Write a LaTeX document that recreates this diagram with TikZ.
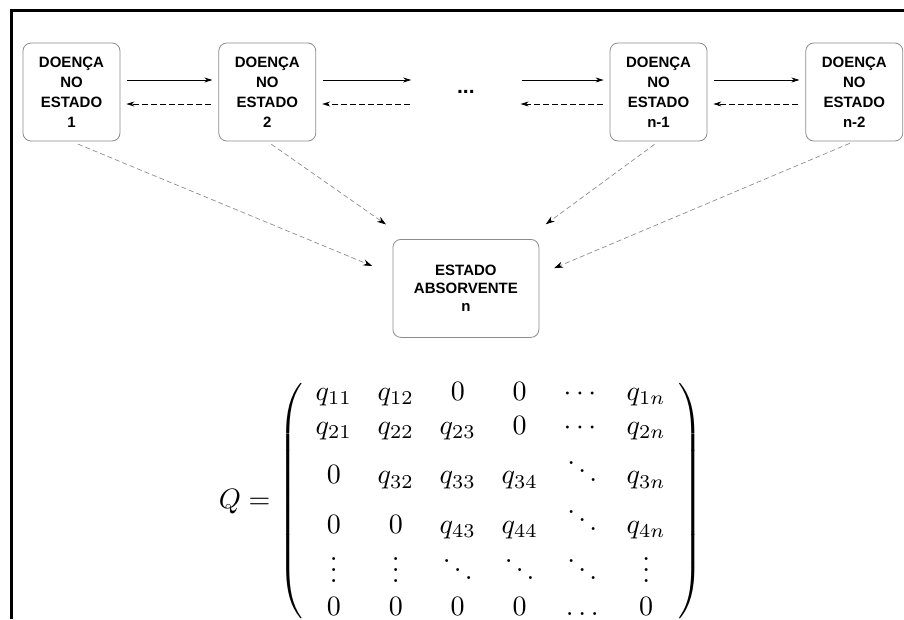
\documentclass[tikz,border=0pt]{standalone}
\usepackage{amsmath}
\usepackage{graphicx}
\usepackage{fontspec}
\setsansfont{Liberation Sans}
\usepackage{tikz}
\usetikzlibrary{arrows.meta,positioning}
\tikzset{
  flowarrow/.style={-{Stealth[length=8pt,width=5pt]}, line width=0.8pt, draw=black,
    shorten <=7pt, shorten >=6pt},
  backarrow/.style={flowarrow, dash pattern=on 6pt off 3pt},
  absarrow/.style={-{Stealth[length=9pt,width=6pt,black]}, line width=0.7pt, draw=black!45,
    dash pattern=on 5pt off 3pt},
  statebox/.style={draw=black!45, rounded corners=8pt, line width=0.8pt, fill=white,
    align=center, inner sep=0pt, minimum width=97pt, minimum height=98pt,
    font=\sffamily\bfseries\fontsize{15}{20}\selectfont},
  absbox/.style={statebox, minimum width=146pt,
    font=\sffamily\bfseries\fontsize{15}{18}\selectfont},
  dotsnode/.style={minimum width=97pt, inner sep=0pt,
    font=\sffamily\bfseries\fontsize{21}{24}\selectfont}
}

\begin{document}
\begin{tikzpicture}[node distance=98pt]
                \useasboundingbox (0,0) rectangle (904pt,-619pt);
                \clip (0,0) rectangle (904pt,-619pt);
                % frame
                \draw[line width=3pt] (11pt,-619pt) -- (11pt,-10pt) -- (904pt,-10pt);
                % chain of states
                \node[statebox] (b1) at (71.5pt,-92pt) {DOENÇA\\NO\\ESTADO\\1};
                \node[statebox, right=of b1] (b2) {DOENÇA\\NO\\ESTADO\\2};
                \node[dotsnode, right=of b2, xshift=3pt] (dots) {...};
                \node[statebox, right=of dots, xshift=-3pt] (bn1) {DOENÇA\\NO\\ESTADO\\n-1};
                \node[statebox, right=of bn1] (bn2) {DOENÇA\\NO\\ESTADO\\n-2};
                \node[absbox, below=147pt of dots.center] (abs) {ESTADO\\ABSORVENTE\\n};
                \draw[flowarrow] ([yshift=12pt]b1.east) -- ([yshift=12pt]b2.west);
                \draw[backarrow] ([yshift=-12pt]b2.west) -- ([yshift=-12pt]b1.east);
                \draw[flowarrow] ([yshift=12pt]b2.east) -- ([yshift=12pt]dots.west);
                \draw[backarrow] ([yshift=-12pt]dots.west) -- ([yshift=-12pt]b2.east);
                \draw[flowarrow] ([yshift=12pt]dots.east) -- ([yshift=12pt]bn1.west);
                \draw[backarrow] ([yshift=-12pt]bn1.west) -- ([yshift=-12pt]dots.east);
                \draw[flowarrow] ([yshift=12pt]bn1.east) -- ([yshift=12pt]bn2.west);
                \draw[backarrow] ([yshift=-12pt]bn2.west) -- ([yshift=-12pt]bn1.east);
                % absorption
                \draw[absarrow, shorten <=7pt, shorten >=22pt] (b1.south) -- ([yshift=14pt]abs.west);
                \draw[absarrow, shorten <=5pt, shorten >=8pt] (b2.south) -- ([yshift=10pt]abs.north west);
                \draw[absarrow, shorten <=5pt, shorten >=8pt] (bn1.south) -- ([yshift=10pt]abs.north east);
                \draw[absarrow, shorten <=5pt, shorten >=16pt] (bn2.south) -- ([yshift=14pt]abs.east);
                % transition matrix
                \node[below=39pt of abs, xshift=-5pt, inner sep=0pt] (qmat) {\scalebox{2.8}{\arraycolsep=4.6pt$Q=\left(\begin{array}{cccccc}
                  q_{11} & q_{12} & 0 & 0 & \cdots & q_{1n}\\[0pt]
                  q_{21} & q_{22} & q_{23} & 0 & \cdots & q_{2n}\\[-0.9pt]
                  0 & q_{32} & q_{33} & q_{34} & \ddots & q_{3n}\\[-1.1pt]
                  0 & 0 & q_{43} & q_{44} & \ddots & q_{4n}\\[-1pt]
                  \vdots & \vdots & \ddots & \ddots & \ddots & \vdots\\[-0.2pt]
                  0 & 0 & 0 & 0 & \ldots & 0
                \end{array}\right)$}};
            \end{tikzpicture}
\end{document}
